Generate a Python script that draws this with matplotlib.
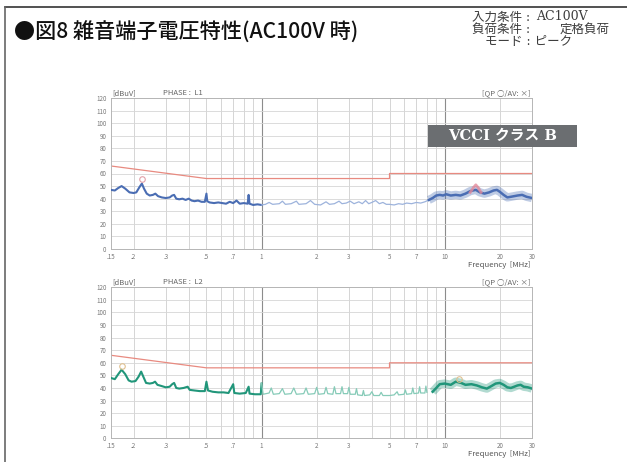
import numpy as np
import matplotlib
matplotlib.use("Agg")
import matplotlib.pyplot as plt
from matplotlib.lines import Line2D
from matplotlib.patches import Rectangle

plt.rcParams['font.family'] = ['Noto Sans CJK JP', 'DejaVu Sans']

# frequency [MHz] / level [dBuV], phase L1
l1_freq = [0.150, 0.158, 0.165, 0.172, 0.180, 0.190, 0.200, 0.207, 0.215, 0.222,
           0.228, 0.236, 0.245, 0.255, 0.263, 0.272, 0.285, 0.300, 0.315, 0.325,
           0.333, 0.342, 0.355, 0.370, 0.385, 0.400, 0.415, 0.430, 0.450, 0.470,
           0.490, 0.500, 0.505, 0.520, 0.550, 0.580, 0.610, 0.640, 0.670, 0.700,
           0.730, 0.760, 0.800, 0.840, 0.850, 0.860, 0.900, 0.950, 1.00,
           1.05, 1.10, 1.15, 1.25, 1.30, 1.35, 1.45, 1.55, 1.60, 1.75, 1.85,
           1.95, 2.10, 2.25, 2.35, 2.50, 2.65, 2.75, 2.90, 3.05, 3.20, 3.40,
           3.55, 3.70, 3.85, 4.00, 4.20, 4.40, 4.60, 4.80, 5.00, 5.30, 5.60,
           5.90, 6.20, 6.60, 7.00, 7.40, 7.80, 8.20, 8.60, 9.00, 9.40, 9.80,
           10.2, 10.8, 11.5, 12.2, 13.0, 13.8, 14.8, 15.6, 16.5, 17.5, 18.5,
           19.3, 20.0, 21.0, 22.0, 23.0, 24.0, 25.0, 26.5, 28.0, 30.0]
l1_level = [47, 46.5, 48.5, 50, 48, 45, 44.5, 45, 49, 52,
            48, 44, 42.5, 43, 44, 42, 41, 40.5, 41, 42.5,
            43, 40, 39.5, 40, 39, 40, 38.5, 38, 38.5, 37.5,
            37.5, 44, 38, 37, 36.5, 37, 36.5, 36, 37.5, 36.5,
            38.5, 36, 36.5, 36, 43, 36, 35, 35.5, 35,
            35.5, 37, 35.5, 36, 38, 35.5, 36, 38, 35.5, 36, 38.5,
            35.5, 35, 37.5, 35.5, 36, 38, 36, 36.5, 38, 36, 37.5,
            36, 38.5, 36, 37, 38.5, 36, 37, 35.5, 35.5, 35, 36,
            35.5, 36.5, 36, 37, 36.5, 37.5, 39, 40.5, 42.5, 43, 42.5,
            43.5, 42.5, 43, 42.5, 44, 46, 47, 45, 44, 45, 46.5,
            47, 45.5, 43, 41, 41.5, 42, 42.5, 43, 41.5, 40.5]

# phase L2
l2_freq = [0.150, 0.158, 0.165, 0.172, 0.180, 0.188, 0.195, 0.205, 0.213, 0.220,
           0.226, 0.234, 0.245, 0.255, 0.262, 0.270, 0.285, 0.300, 0.315, 0.325,
           0.333, 0.342, 0.355, 0.375, 0.395, 0.405, 0.430, 0.460, 0.490, 0.500,
           0.510, 0.540, 0.580, 0.620, 0.660, 0.700, 0.710, 0.760, 0.820, 0.850,
           0.860, 0.920, 0.990, 1.00, 1.02, 1.10, 1.13, 1.16, 1.25, 1.30,
           1.34, 1.45, 1.50, 1.55, 1.70, 1.75, 1.80, 1.95, 2.00, 2.05,
           2.20, 2.25, 2.30, 2.45, 2.50, 2.55, 2.70, 2.75, 2.80, 2.95,
           3.00, 3.05, 3.25, 3.30, 3.35, 3.55, 3.60, 3.65, 3.90, 4.00,
           4.10, 4.40, 4.50, 4.60, 5.00, 5.30, 5.50, 5.60, 6.00, 6.10,
           6.20, 6.60, 6.70, 6.80, 7.20, 7.30, 7.40, 7.80, 7.90, 8.00,
           8.60, 9.00, 9.40, 10.0, 10.8, 11.5, 12.3, 13.0, 14.0, 15.0,
           16.0, 17.0, 18.0, 19.0, 20.0, 21.0, 22.0, 23.0, 24.0, 25.0,
           26.0, 27.0, 28.5, 30.0]
l2_level = [48, 47, 51, 54.5, 51, 46, 45, 45.5, 49, 53,
            49, 44, 43.5, 44, 45, 42.5, 41.5, 40.5, 41, 43,
            44, 40, 39.5, 40, 41, 38.5, 38, 37.5, 37.5, 45,
            38, 37, 36.5, 36.5, 36, 43, 36, 35.5, 36, 41,
            35.5, 35, 35, 43.5, 35, 36, 40, 35, 35.5, 39.5,
            35, 35.5, 40, 35, 35.5, 40, 35, 35.5, 40.5, 35,
            35.5, 40.5, 35.5, 35, 41, 35.5, 35.5, 41, 35.5, 35.5,
            40.5, 35, 35, 39.5, 34.5, 34, 38, 34, 34.5, 37,
            34, 34, 36.5, 34, 34, 34.5, 37, 34.5, 35, 38.5,
            35, 35.5, 40, 35.5, 36, 41, 36, 36, 41.5, 36.5,
            37, 40, 43, 43.5, 42.5, 45, 44, 42.5, 43, 42,
            40.5, 39.5, 41.5, 43.5, 44, 42.5, 40.5, 40, 41, 42,
            42.5, 41, 40.5, 39.5]

# VCCI class B quasi-peak limit
limit_freq = [0.15, 0.5, 5.0, 5.0, 30.0]
limit_level = [66, 56, 56, 60, 60]

# peak markers
l1_mark_freq, l1_mark_level = [0.222], [55.5]
l1_hot_freq = [13.8, 14.4, 14.8, 15.2, 15.8]
l1_hot_level = [45, 49, 51, 49, 45]
l2_mark_freq, l2_mark_level = [0.172, 12.0], [57.5, 47.5]

xticks = [0.15, 0.2, 0.3, 0.5, 0.7, 1, 2, 3, 5, 7, 10, 20, 30]
xtick_labels = ['.15', '.2', '.3', '.5', '.7', '1', '2', '3', '5', '7', '10', '20', '30']
yticks = list(range(0, 130, 10))
minor_grid = [0.2, 0.3, 0.4, 0.5, 0.6, 0.7, 0.8, 0.9, 2, 3, 4, 5, 6, 7, 8, 9, 20]

W, H = 627, 462
fig = plt.figure(figsize=(W / 100, H / 100), dpi=100)
fig.patch.set_facecolor('white')

# outer frame (top and left edges only)
fig.add_artist(Line2D([5 / W, 1], [1 - 7 / H, 1 - 7 / H], color='#333333', lw=1.2))
fig.add_artist(Line2D([5 / W, 5 / W], [0, 1 - 7 / H], color='#666666', lw=1.2))

fig.text(14 / W, 1 - 33 / H, '●図8 雑音端子電圧特性(AC100V 時)', fontsize=15.2,
         va='center', ha='left', color='#111111', fontweight='medium')

# test conditions block
cond_kw = dict(fontsize=9, va='center', color='#3c3c3c',
               family=['DejaVu Serif', 'Noto Sans CJK JP'])
fig.text(472 / W, 1 - 17 / H, '入力条件 :', ha='left', **cond_kw)
fig.text(536 / W, 1 - 17 / H, 'AC100V', ha='left', **cond_kw)
fig.text(472 / W, 1 - 29 / H, '負荷条件 :', ha='left', **cond_kw)
fig.text(610 / W, 1 - 29 / H, '定格負荷', ha='right', **cond_kw)
fig.text(485 / W, 1 - 41 / H, 'モード : ピーク', ha='left', **cond_kw)


def emi_panel(top, phase, freq, level, color, light, marks):
    left, right, bottom = 110.7, 532.0, top + 151.0
    ax = fig.add_axes([left / W, 1 - bottom / H, (right - left) / W, 151.0 / H])
    ax.set_xscale('log')
    ax.set_xlim(0.15, 30)
    ax.set_ylim(0, 120)
    for f in minor_grid:
        ax.axvline(f, color='#cfcfcf', lw=0.6, zorder=0)
    for f in (1, 10):
        ax.axvline(f, color='#8c8c8c', lw=0.8, zorder=0)
    for v in yticks[1:]:
        ax.axhline(v, color='#d6d6d6', lw=0.6, zorder=0)
    for s in ax.spines.values():
        s.set_color('#b5b5b5')
        s.set_linewidth(0.7)
    ax.set_xticks(xticks)
    ax.set_xticklabels(xtick_labels)
    ax.minorticks_off()
    ax.set_yticks(yticks)
    ax.tick_params(length=0, labelsize=4.5, colors='#777777', pad=3)

    ax.plot(limit_freq, limit_level, color='#e88a80', lw=0.9, zorder=2)

    f = np.array(freq)
    v = np.array(level)
    low = f <= 1.0
    mid = (f >= 1.0) & (f <= 8.2)
    high = f >= 8.2
    ax.plot(f[low], v[low], color=color, lw=1.5, zorder=3)
    ax.plot(f[mid], v[mid], color=light, lw=0.9, zorder=3)
    ax.plot(f[high], v[high], color=color, lw=6.0, alpha=0.35, zorder=3,
            solid_capstyle='butt')
    ax.plot(f[high], v[high], color=color, lw=1.8, zorder=3)
    for mf, ml, mc in marks:
        ax.plot(mf, ml, 'o', ms=4, mfc='none', mec=mc, mew=0.8, zorder=4)

    kw = dict(fontsize=5.5, color='#666666', va='center')
    fig.text(112 / W, 1 - (top - 5) / H, '[dBuV]', ha='left', **kw)
    fig.text(163 / W, 1 - (top - 5) / H, 'PHASE :  ' + phase, ha='left', **kw)
    fig.text(530 / W, 1 - (top - 5) / H, '[QP ○/AV: ×]', ha='right', **kw)
    fig.text(530 / W, 1 - (bottom + 16) / H, 'Frequency  [MHz]', ha='right',
             fontsize=5.6, color='#555555', va='center')
    return ax


ax1 = emi_panel(98.0, 'L1', l1_freq, l1_level, '#4a6db3', '#9db3dc',
                [(l1_mark_freq, l1_mark_level, '#e2a0a8')])
ax1.plot(l1_hot_freq, l1_hot_level, color='#e48a9a', lw=2.0, alpha=0.8, zorder=4)

ax2 = emi_panel(287.3, 'L2', l2_freq, l2_level, '#21967a', '#86cbb8',
                [(l2_mark_freq, l2_mark_level, '#e0c090')])

# class label box
fig.add_artist(Rectangle((428 / W, 1 - 147 / H), 149 / W, 22 / H,
                         transform=fig.transFigure, fc='#6b6e71', ec='none', zorder=5))
fig.text(502.5 / W, 1 - 136 / H, 'VCCI クラス B', fontsize=10.6, fontweight='bold',
         color='white', ha='center', va='center', zorder=6,
         family=['DejaVu Serif', 'Noto Sans CJK JP'])

fig.savefig('out.png', dpi=100)
